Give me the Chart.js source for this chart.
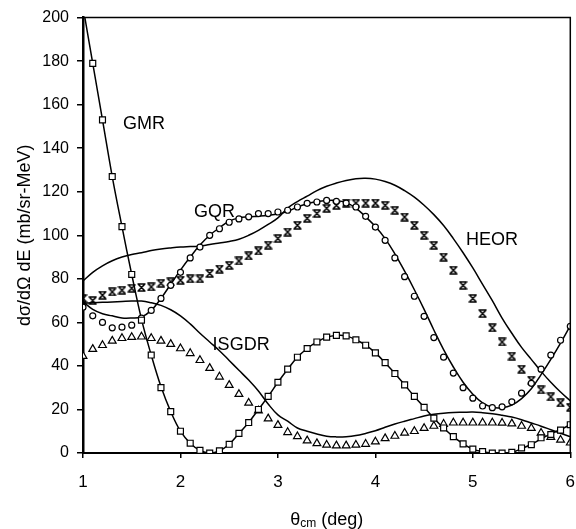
<!DOCTYPE html>
<html>
<head>
<meta charset="utf-8">
<script src="https://cdn.jsdelivr.net/npm/chart.js@4/dist/chart.umd.min.js"></script>
<style>
  html, body { margin: 0; padding: 0; background: #fff; }
  #wrap { width: 576px; height: 529px; }
</style>
</head>
<body>
<div id="wrap"><canvas id="chart" width="576" height="529"></canvas></div>
<script>
// scattering angle, deg (markers every 0.1 deg)
const angles = [1.0, 1.1, 1.2, 1.3, 1.4, 1.5, 1.6, 1.7, 1.8, 1.9,
  2.0, 2.1, 2.2, 2.3, 2.4, 2.5, 2.6, 2.7, 2.8, 2.9,
  3.0, 3.1, 3.2, 3.3, 3.4, 3.5, 3.6, 3.7, 3.8, 3.9,
  4.0, 4.1, 4.2, 4.3, 4.4, 4.5, 4.6, 4.7, 4.8, 4.9,
  5.0, 5.1, 5.2, 5.3, 5.4, 5.5, 5.6, 5.7, 5.8, 5.9, 6.0];

// marker series
const gmrPoints = [null, 179, 153, 127, 104, 82, 61, 45, 30, 19,
  10, 4.5, 1.2, 0, 1, 4, 9, 14, 20, 26,
  32.5, 38.5, 44, 48, 51, 53.2, 54, 53.8, 52, 49.5,
  46, 41.5, 36.5, 31.3, 26, 21, 16, 11.5, 7.5, 4.2,
  1.8, 0.6, 0, 0, 0.3, 2.3, 3.8, 7, 8.5, 10.5, 13];
const gqrPoints = [67, 63, 60, 57.5, 57.8, 58.7, 62, 65.5, 71, 77,
  83, 89.6, 94.6, 100, 103, 106, 107.5, 108.5, 110, 110,
  110.7, 111.5, 113, 114.7, 115.3, 116, 115.6, 114.8, 113, 108.7,
  103.8, 97.7, 89.6, 81, 72, 62.8, 53, 44, 36.7, 30,
  25.2, 21.6, 20.8, 21.2, 23.5, 27.5, 32, 38.5, 45, 51.8, 58.2];
const heorPoints = [71, 70, 72.5, 74, 74.8, 75.7, 76, 76.3, 78, 78.6,
  79.4, 80, 80, 82.5, 84.5, 86.2, 88.2, 90.5, 92.8, 95.5,
  98.5, 101.5, 104.6, 107.8, 110, 112.4, 113.8, 114.8, 114.8, 114.8,
  114.8, 113.8, 111.5, 108.4, 104.6, 100, 95.4, 90, 84, 77,
  71, 64, 57.5, 51, 44.5, 38.5, 33.5, 29, 25.8, 23, 21];
const isgdrPoints = [44.5, 47.7, 49.5, 51.5, 52.7, 53.2, 53.4, 52.7, 51.5, 50,
  48, 45.8, 42.6, 39, 35, 31.2, 27, 23, 19.4, 15.8,
  12.8, 9.5, 7.6, 5.7, 4.4, 3.7, 3.4, 3.4, 3.7, 4.1,
  5.2, 6.7, 7.8, 9.2, 10, 11.4, 12.4, 13.3, 13.9, 13.9,
  13.9, 13.9, 13.9, 13.8, 13.5, 12.4, 11.4, 9.2, 7.3, 6, 4.7];

// solid curves
const gmrCurve = [205, 179, 153, 127, 104, 82, 61.5, 45, 30.5, 19,
  10, 4.5, 1.2, 0, 1, 4, 9, 14, 20, 26,
  32.5, 38.5, 44, 48, 51, 53.2, 54, 53.8, 52, 49.5,
  46, 41.5, 36.5, 31.3, 26, 21, 16, 11.5, 7.5, 4.2,
  1.8, 0.6, 0, 0, 0.3, 2, 4, 6.5, 8.8, 10.8, 13];
const gqrCurve = [69.5, 66, 64, 63, 62, 62, 62.5, 65.5, 71, 77.5,
  84, 90, 95.5, 100, 103.5, 106.5, 108, 108.5, 108.8, 109.2,
  109.8, 111, 113, 114.5, 115.5, 116, 116, 115, 112.5, 108.5,
  104, 98.5, 91.5, 83.5, 75, 66, 56.5, 47.5, 39.5, 32.5,
  27, 23, 21, 20.8, 22, 25, 29.5, 36, 43, 50.5, 58.5];
const heorCurve = [79, 83, 86, 88.3, 90, 91.2, 92, 93, 93.7, 94.2,
  94.6, 94.8, 95, 95.8, 96.5, 97.2, 98.2, 100, 102.3, 105,
  108, 112.5, 115.5, 118, 120.5, 122.5, 124, 125.2, 126, 126.2,
  125.8, 124.7, 123, 120.5, 117.5, 113.8, 109.5, 104.5, 98.5, 92,
  85, 77.5, 70, 62, 55, 48.5, 43, 37.5, 32.5, 28, 24];
const isgdrCurve = [68.8, 69, 69.2, 69.4, 69.6, 69.8, 69.8, 69, 67.8, 65.8,
  63, 59.3, 55, 51, 47, 42.5, 38, 33.5, 28.5, 22.5,
  17.5, 14.6, 11.5, 10, 8.7, 7.7, 7.4, 7.5, 8, 9,
  10.2, 11.8, 13.3, 14.6, 15.8, 17, 17.8, 18.3, 18.6, 18.7,
  18.8, 18.5, 18, 17.3, 16.5, 15.3, 13.8, 12.3, 10.7, 9.1, 7.5];

// curve labels and where they sit (data units)
const seriesNames = ['GMR', 'GQR', 'HEOR', 'ISGDR'];
const labelX = [1.41, 2.14, 4.93, 2.33];
const labelY = [151, 110.5, 97.7, 49.5];

const xTicks = [1, 2, 3, 4, 5, 6];
const yTicks = [0, 20, 40, 60, 80, 100, 120, 140, 160, 180, 200];

const FONT = "'Liberation Sans', Arial, Helvetica, sans-serif";

function pairs(vals) {
  return angles.map((a, i) => ({ x: a, y: vals[i] }));
}

// serif "X" marker used for HEOR points
function heorMarker() {
  const c = document.createElement('canvas');
  c.width = 9; c.height = 9;
  const g = c.getContext('2d');
  g.strokeStyle = '#000';
  g.lineWidth = 1.5;
  g.beginPath();
  g.moveTo(1.5, 1.5); g.lineTo(7.5, 7.5);
  g.moveTo(7.5, 1.5); g.lineTo(1.5, 7.5);
  g.moveTo(0.5, 1); g.lineTo(8.5, 1);
  g.moveTo(0.5, 8); g.lineTo(8.5, 8);
  g.stroke();
  return c;
}

function curve(vals) {
  return {
    type: 'line', data: pairs(vals), borderColor: '#000', borderWidth: 1.5,
    pointRadius: 0, tension: 0.4, fill: false, order: 2
  };
}
function markers(vals, style, radius) {
  return {
    type: 'line', data: pairs(vals), showLine: false, pointStyle: style,
    pointRadius: radius, pointBorderColor: '#000', pointBackgroundColor: '#fff',
    pointBorderWidth: 1.2, order: 1
  };
}

const frameAndText = {
  id: 'frameAndText',
  afterDraw(chart) {
    const { ctx, chartArea: a, scales: { x, y } } = chart;
    ctx.save();
    // top and right frame
    ctx.strokeStyle = '#000';
    ctx.lineWidth = 1.5;
    ctx.beginPath();
    ctx.moveTo(a.left, a.top); ctx.lineTo(a.right, a.top); ctx.lineTo(a.right, a.bottom);
    ctx.stroke();

    // curve names
    ctx.fillStyle = '#000';
    ctx.font = '18px ' + FONT;
    ctx.textAlign = 'left';
    ctx.textBaseline = 'middle';
    seriesNames.forEach((n, i) => {
      ctx.fillText(n, x.getPixelForValue(labelX[i]), y.getPixelForValue(labelY[i]));
    });

    // x axis title with subscript
    const big = '18px ' + FONT, small = '12px ' + FONT;
    ctx.font = big; const w1 = ctx.measureText('\u03b8').width;
    ctx.font = small; const w2 = ctx.measureText('cm').width;
    ctx.font = big; const w3 = ctx.measureText(' (deg)').width;
    let cx = (a.left + a.right) / 2 - (w1 + w2 + w3) / 2;
    const base = 525;
    ctx.textBaseline = 'alphabetic';
    ctx.font = big; ctx.fillText('\u03b8', cx, base); cx += w1;
    ctx.font = small; ctx.fillText('cm', cx, base + 2); cx += w2;
    ctx.font = big; ctx.fillText(' (deg)', cx, base);
    ctx.restore();
  }
};

new Chart(document.getElementById('chart').getContext('2d'), {
  type: 'line',
  data: {
    datasets: [
      curve(gmrCurve), curve(gqrCurve), curve(heorCurve), curve(isgdrCurve),
      markers(gmrPoints, 'rect', 4.2),
      markers(gqrPoints, 'circle', 3),
      markers(heorPoints, heorMarker(), 4),
      markers(isgdrPoints, 'triangle', 4.5)
    ]
  },
  options: {
    responsive: false,
    animation: false,
    layout: { padding: { top: 17, right: 4, left: 0, bottom: 0 } },
    plugins: { legend: { display: false }, tooltip: { enabled: false } },
    scales: {
      x: {
        type: 'linear', min: 1, max: 6,
        afterBuildTicks: s => { s.ticks = xTicks.map(v => ({ value: v })); },
        afterFit: s => { s.height = 76; s.paddingLeft = 0; s.paddingRight = 0; },
        grid: { drawOnChartArea: false, drawTicks: true, tickLength: 5, color: '#000', lineWidth: 1.5 },
        border: { display: true, color: '#000', width: 2 },
        ticks: { color: '#000', font: { family: FONT, size: 17 }, padding: 14 }
      },
      y: {
        type: 'linear', min: 0, max: 200,
        afterBuildTicks: s => { s.ticks = yTicks.map(v => ({ value: v })); },
        afterFit: s => { s.width = 83; },
        grid: { drawOnChartArea: false, drawTicks: true, tickLength: 6, color: '#000', lineWidth: 1.5 },
        border: { display: true, color: '#000', width: 2.5 },
        ticks: { color: '#000', font: { family: FONT, size: 16 }, padding: 8 },
        title: {
          display: true, text: 'd\u03c3/d\u03a9 dE (mb/sr-MeV)', color: '#000',
          font: { family: FONT, size: 18 }, padding: { top: 14, bottom: 0 }
        }
      }
    }
  },
  plugins: [frameAndText]
});
</script>
</body>
</html>
